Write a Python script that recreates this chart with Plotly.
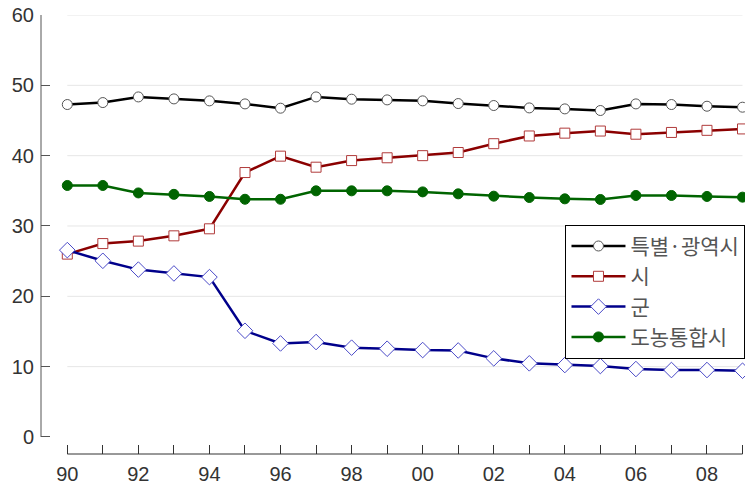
import plotly.graph_objects as go

years = ["90", "91", "92", "93", "94", "95", "96", "97", "98", "99",
         "00", "01", "02", "03", "04", "05", "06", "07", "08", "09"]
xtick_labels = ["90", "", "92", "", "94", "", "96", "", "98", "",
                "00", "", "02", "", "04", "", "06", "", "08", ""]
yticks = [0, 10, 20, 30, 40, 50, 60]
gridvals = [10, 20, 30, 40, 50, 60]

metro = [47.27, 47.55, 48.35, 48.07, 47.79, 47.36, 46.75, 48.35, 48.03, 47.93,
         47.79, 47.41, 47.13, 46.79, 46.65, 46.42, 47.36, 47.27, 47.03, 46.89]
city = [26.0, 27.5, 27.85, 28.6, 29.6, 37.6, 39.93, 38.36, 39.3, 39.7,
        40.0, 40.45, 41.7, 42.8, 43.2, 43.5, 43.05, 43.3, 43.6, 43.8]
county = [26.57, 25.05, 23.8, 23.25, 22.73, 15.1, 13.3, 13.5, 12.7, 12.55,
          12.36, 12.3, 11.18, 10.47, 10.23, 10.09, 9.66, 9.52, 9.52, 9.42]
urbanrural = [35.76, 35.76, 34.7, 34.5, 34.2, 33.8, 33.8, 35.0, 35.0, 35.0,
              34.85, 34.57, 34.24, 34.05, 33.86, 33.77, 34.34, 34.34, 34.2, 34.1]

names = ["특별·광역시", "시", "군", "도농통합시"]

fig = go.Figure()
fig.add_trace(go.Scatter(x=years, y=metro, name=names[0], mode="lines+markers",
                         line=dict(color="#000000", width=2.5),
                         marker=dict(symbol="circle", size=10, color="white",
                                     line=dict(color="#555555", width=1))))
fig.add_trace(go.Scatter(x=years, y=city, name=names[1], mode="lines+markers",
                         line=dict(color="#8b0000", width=2.5),
                         marker=dict(symbol="square", size=10, color="white",
                                     line=dict(color="#b03a3a", width=1))))
fig.add_trace(go.Scatter(x=years, y=county, name=names[2], mode="lines+markers",
                         line=dict(color="#00008b", width=2.5),
                         marker=dict(symbol="diamond", size=12, color="white",
                                     line=dict(color="#4a4ac8", width=1))))
fig.add_trace(go.Scatter(x=years, y=urbanrural, name=names[3], mode="lines+markers",
                         line=dict(color="#006400", width=2.5),
                         marker=dict(symbol="circle", size=10, color="#006400",
                                     line=dict(color="#006400", width=1))))

first_idx, last_idx = 0, len(years) - 1
shapes = []
for g in gridvals:
    shapes.append(dict(type="line", xref="x", yref="y", x0=first_idx, x1=last_idx,
                       y0=g, y1=g, line=dict(color="#e6e6e6", width=1), layer="below"))
shapes.append(dict(type="line", xref="paper", yref="y", x0=0, x1=0, y0=0, y1=60,
                   line=dict(color="#555555", width=1)))
shapes.append(dict(type="line", xref="x", yref="paper", x0=first_idx, x1=last_idx,
                   y0=0, y1=0, line=dict(color="#333333", width=1)))

fig.update_layout(
    width=749, height=484,
    margin=dict(l=41, r=4, t=15, b=30, autoexpand=False),
    paper_bgcolor="white", plot_bgcolor="white",
    shapes=shapes,
    font=dict(family="Liberation Sans, Arial, sans-serif", size=20, color="#333333"),
    legend=dict(x=0.745, y=0.522, xanchor="left", yanchor="top",
                bgcolor="white", bordercolor="#000000", borderwidth=1,
                font=dict(family="Noto Sans CJK KR", size=21, color="#555555"),
                itemwidth=54, tracegroupgap=0),
    xaxis=dict(type="category", range=[-0.74, 19.07], tickmode="array",
               tickvals=years, ticktext=xtick_labels, ticks="inside", ticklen=9,
               tickcolor="#333333", showgrid=False, showline=False, zeroline=False,
               ticklabelstandoff=6, automargin=False),
    yaxis=dict(range=[-2.42, 60], tickmode="array", tickvals=yticks,
               ticks="inside", ticklen=9, tickcolor="#555555",
               showgrid=False, showline=False, zeroline=False,
               ticklabelstandoff=6, automargin=False),
)

fig.write_html("out.html",
               config={"displayModeBar": False},
               post_script="document.body.style.margin='0px';")
